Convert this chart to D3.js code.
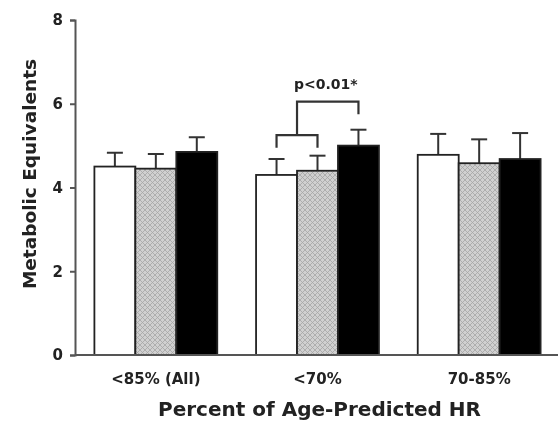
<!DOCTYPE html>
<html>
<head>
<meta charset="utf-8">
<script src="https://cdn.jsdelivr.net/npm/d3@7"></script>
<style>
  body { margin: 0; background: #fff; }
  svg { filter: blur(0.5px); }
  text { font-family: "DejaVu Sans", Arial, sans-serif; font-weight: bold; fill: #222; }
</style>
</head>
<body>
<div id="chart"></div>
<script>
// data
let categories = ["<85% (All)", "<70%", "70-85%"];
let seriesNames = ["open", "hatched", "filled"];
let openVals = [4.5, 4.3, 4.78];
let hatchedVals = [4.45, 4.4, 4.58];
let filledVals = [4.85, 5.0, 4.68];
let openErr = [0.33, 0.38, 0.5];
let hatchedErr = [0.35, 0.36, 0.57];
let filledErr = [0.35, 0.38, 0.62];
let yTicks = [0, 2, 4, 6, 8];

let w = 558, h = 423;
let mLeft = 75, mRight = 560, mTop = 20, mBottom = 355;

let values = [openVals, hatchedVals, filledVals];
let errors = [openErr, hatchedErr, filledErr];
let data = [];
categories.forEach(function(c, i){
  seriesNames.forEach(function(s, j){
    data.push({cat: c, series: s, value: values[j][i], err: errors[j][i]});
  });
});

var svg = d3.select("#chart").append("svg")
  .attr("width", w).attr("height", h);

var defs = svg.append("defs");
var pat = defs.append("pattern")
  .attr("id", "hatch").attr("patternUnits", "userSpaceOnUse")
  .attr("width", 5).attr("height", 5);
pat.append("rect").attr("width", 5).attr("height", 5).attr("fill", "#d0d0d0");
pat.append("path").attr("d", "M0,0L5,5M5,0L0,5")
  .attr("stroke", "#a6a6a6").attr("stroke-width", 0.8);

let x = d3.scaleBand().domain(categories).range([mLeft, mRight])
  .paddingInner(0.24).paddingOuter(0.12);
let xs = d3.scaleBand().domain(seriesNames).range([0, x.bandwidth()]);
let y = d3.scaleLinear().domain([0, 8]).range([mBottom, mTop]);

let fills = {open: "#fff", hatched: "url(#hatch)", filled: "#000"};

// error bars (upper only)
var eb = svg.append("g").attr("stroke", "#333").attr("stroke-width", 2);
eb.selectAll("line.v").data(data).enter().append("line")
  .attr("x1", d => x(d.cat) + xs(d.series) + xs.bandwidth() / 2)
  .attr("x2", d => x(d.cat) + xs(d.series) + xs.bandwidth() / 2)
  .attr("y1", d => y(d.value)).attr("y2", d => y(d.value + d.err));
eb.selectAll("line.c").data(data).enter().append("line")
  .attr("x1", d => x(d.cat) + xs(d.series) + xs.bandwidth() / 2 - 8)
  .attr("x2", d => x(d.cat) + xs(d.series) + xs.bandwidth() / 2 + 8)
  .attr("y1", d => y(d.value + d.err)).attr("y2", d => y(d.value + d.err));

svg.append("g").selectAll("rect").data(data).enter().append("rect")
  .attr("x", d => x(d.cat) + xs(d.series))
  .attr("y", d => y(d.value))
  .attr("width", xs.bandwidth())
  .attr("height", d => y(0) - y(d.value))
  .attr("fill", d => fills[d.series])
  .attr("stroke", "#222").attr("stroke-width", 1.8);

// axes
var yAxis = svg.append("g").attr("transform", "translate(" + mLeft + ",0)")
  .call(d3.axisLeft(y).tickValues(yTicks).tickSize(5).tickPadding(7));
yAxis.select(".domain").attr("stroke", "#555").attr("stroke-width", 2);
yAxis.selectAll(".tick line").attr("stroke", "#555").attr("stroke-width", 2);
yAxis.selectAll("text").style("font-size", "15px").attr("fill", "#222");

var xAxis = svg.append("g").attr("transform", "translate(0," + mBottom + ")")
  .call(d3.axisBottom(x).tickSize(0).tickPadding(18));
xAxis.select(".domain").attr("stroke", "#555").attr("stroke-width", 2)
  .attr("d", "M" + mLeft + ",0H" + w);
xAxis.selectAll("text").style("font-size", "15px").attr("fill", "#222");

svg.append("text")
  .attr("transform", "translate(36,174) rotate(-90)")
  .attr("text-anchor", "middle").style("font-size", "18.5px")
  .text("Metabolic Equivalents");
svg.append("text")
  .attr("x", (mLeft + mRight) / 2 + 2).attr("y", 416)
  .attr("text-anchor", "middle").style("font-size", "20px")
  .text("Percent of Age-Predicted HR");

// significance bracket: open+hatched vs filled in <70%
let g2 = categories[1];
let cOpen = x(g2) + xs("open") + xs.bandwidth() / 2;
let cHatch = x(g2) + xs("hatched") + xs.bandwidth() / 2;
let cFill = x(g2) + xs("filled") + xs.bandwidth() / 2;
let yInner = y(5.25), yOuter = y(6.05);
let mid = (cOpen + cHatch) / 2;
svg.append("path")
  .attr("d", "M" + cOpen + "," + y(4.95) + "V" + yInner + "H" + cHatch + "V" + y(4.95)
    + "M" + mid + "," + yInner + "V" + yOuter + "H" + cFill + "V" + y(5.75))
  .attr("fill", "none").attr("stroke", "#333").attr("stroke-width", 2.2);
svg.append("text")
  .attr("x", (mid + cFill) / 2 - 2).attr("y", yOuter - 13)
  .attr("text-anchor", "middle").style("font-size", "14px")
  .text("p<0.01*");
</script>
</body>
</html>
